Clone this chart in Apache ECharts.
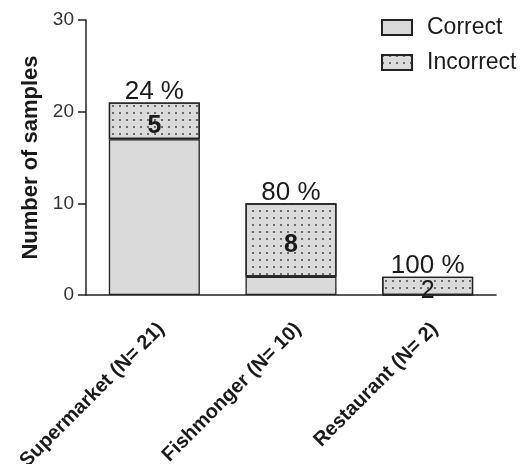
<!DOCTYPE html>
<html>
<head>
<meta charset="utf-8">
<script src="https://cdn.jsdelivr.net/npm/echarts@6/dist/echarts.min.js"></script>
<style>
html, body { margin: 0; padding: 0; background: #fff; }
#chart { width: 521px; height: 464px; }
</style>
</head>
<body>
<div id="chart"></div>
<script>
// values
var categories = ["Supermarket (N= 21)", "Fishmonger (N= 10)", "Restaurant (N= 2)"];
var correct = [17, 2, 0];
var incorrect = [4, 8, 2];
var incorrectLabels = ["5", "8", "2"];
var pctLabels = ["24 %", "80 %", "100 %"];
var yTicks = [0, 10, 20, 30];

var font = "'Liberation Sans', Arial, sans-serif";
var ink = "#1a1a1a";
var fill = "#dadada";

var chart = echarts.init(document.getElementById("chart"));

var option = {
    backgroundColor: "#fff",
    animation: false,
    textStyle: { fontFamily: font, color: ink },
    grid: {
        left: 86,
        right: 25,
        top: 20,
        bottom: 169,
        outerBoundsMode: "none"
    },
    legend: {
        data: ["Correct", "Incorrect"],
        orient: "vertical",
        left: 376,
        top: 11,
        itemWidth: 30,
        itemHeight: 15,
        itemGap: 12,
        icon: "rect",
        textStyle: { fontFamily: font, fontSize: 23, color: ink, padding: [0, 0, 0, 10] }
    },
    xAxis: {
        type: "category",
        data: categories,
        axisLine: { lineStyle: { color: "#222", width: 1.5 } },
        axisTick: { alignWithLabel: true, length: 8, lineStyle: { color: "#222", width: 1.5 } },
        axisLabel: {
            rotate: 45,
            interval: 0,
            margin: 24,
            verticalAlign: "top",
            fontFamily: font,
            fontSize: 20,
            fontWeight: "bold",
            color: ink
        }
    },
    yAxis: {
        type: "value",
        min: yTicks[0],
        max: yTicks[yTicks.length - 1],
        interval: 10,
        name: "Number of samples",
        nameLocation: "middle",
        nameGap: 38,
        nameTextStyle: { fontFamily: font, fontSize: 22, fontWeight: "bold", color: ink },
        axisLine: { show: true, lineStyle: { color: "#222", width: 1.5 } },
        axisTick: { show: true, length: 8, lineStyle: { color: "#222", width: 1.5 } },
        splitLine: { show: false },
        axisLabel: { fontFamily: font, fontSize: 19, color: "#333", margin: 12 }
    },
    series: [
        {
            name: "Correct",
            type: "bar",
            stack: "n",
            barWidth: "66.6%",
            data: correct,
            itemStyle: { color: fill, borderColor: "#222", borderWidth: 1.3 }
        },
        {
            name: "Incorrect",
            type: "bar",
            stack: "n",
            data: incorrect.map(function (v, i) {
                return {
                    value: v,
                    label: { fontWeight: i === 2 ? "normal" : "bold" }
                };
            }),
            itemStyle: {
                color: fill,
                borderColor: "#222",
                borderWidth: 1.3,
                decal: {
                    symbol: "rect",
                    symbolSize: 1,
                    dashArrayX: [2, 5],
                    dashArrayY: [2, 5],
                    color: "#6a6a6a"
                }
            },
            label: {
                show: true,
                position: "inside",
                fontFamily: font,
                fontSize: 25,
                color: ink,
                offset: [0, 5],
                formatter: function (p) { return incorrectLabels[p.dataIndex]; }
            }
        },
        {
            name: "pct",
            type: "bar",
            stack: "n",
            data: [0, 0, 0],
            itemStyle: { color: "transparent", borderWidth: 0 },
            label: {
                show: true,
                position: "top",
                distance: -2,
                fontFamily: font,
                fontSize: 26,
                color: ink,
                formatter: function (p) { return pctLabels[p.dataIndex]; }
            }
        }
    ]
};

chart.setOption(option);

window.onresize = function () {
    chart.resize();
};
</script>
</body>
</html>
